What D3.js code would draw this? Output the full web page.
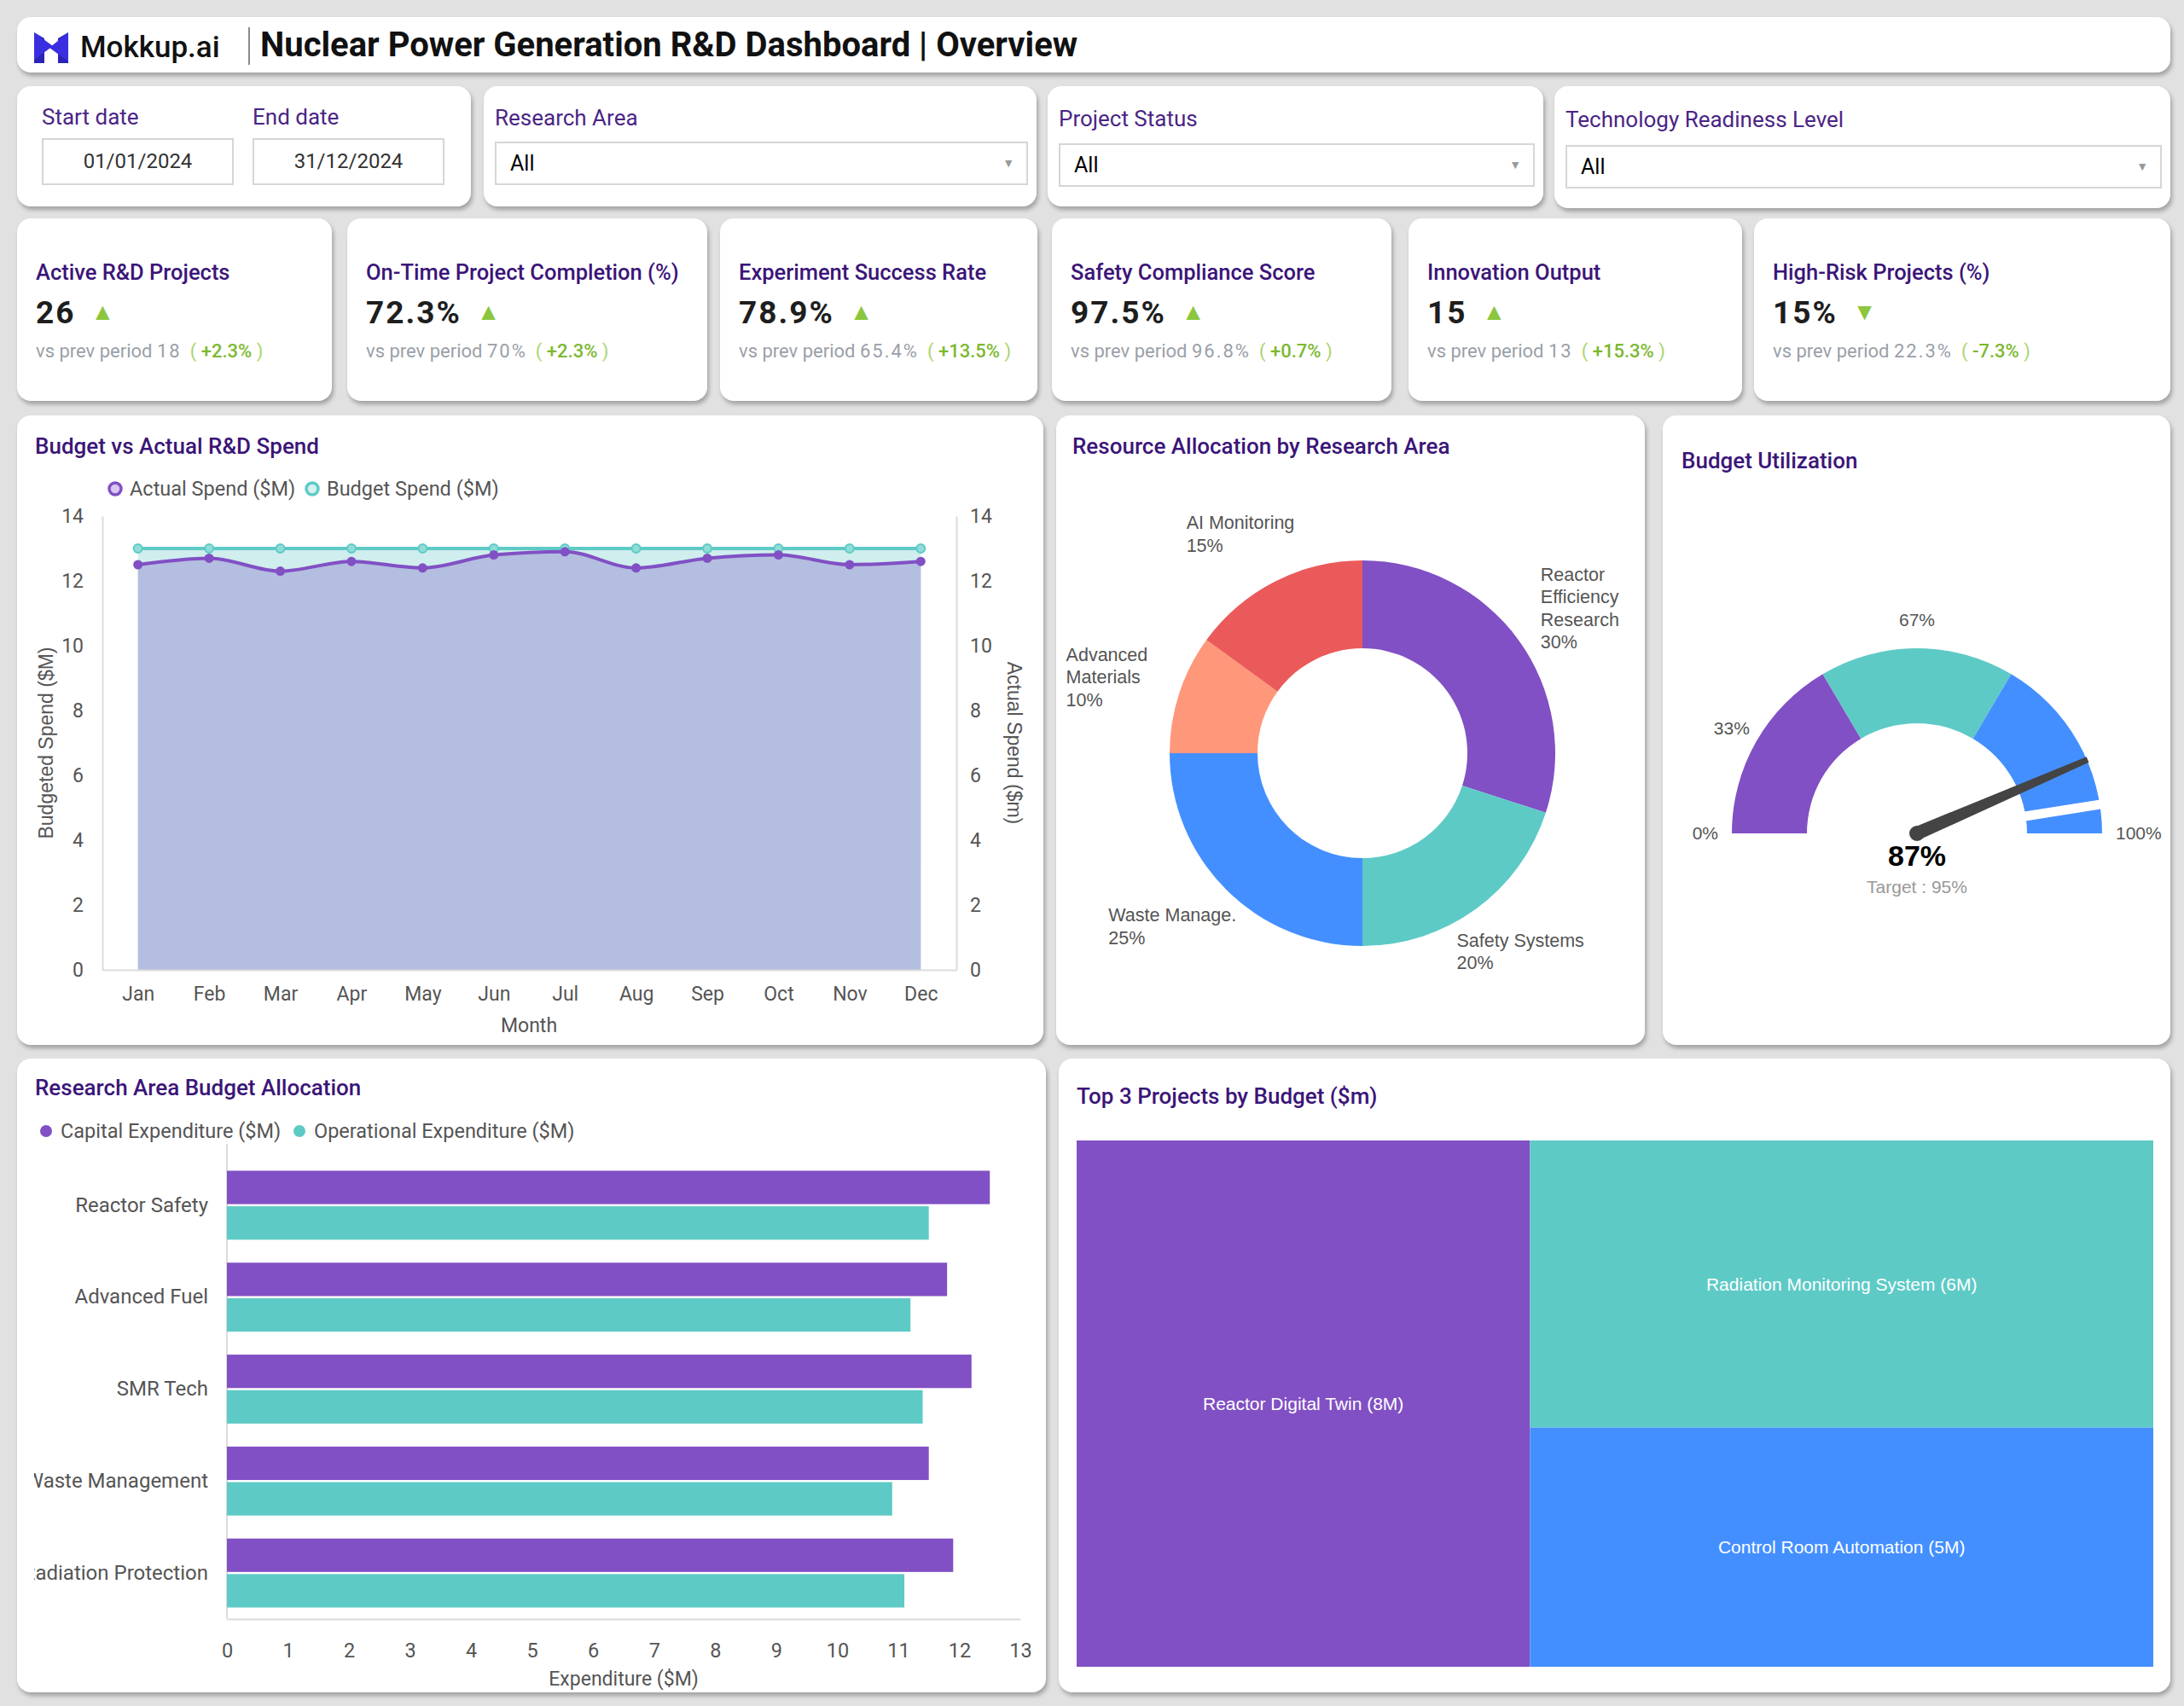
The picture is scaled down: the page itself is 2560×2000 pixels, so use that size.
<!DOCTYPE html>
<html>
<head>
<meta charset="utf-8">
<script src="https://cdn.jsdelivr.net/npm/d3@7"></script>
<style>
  body { margin:0; width:2560px; height:2000px; background:#e1e1e1; position:relative; overflow:hidden;
         font-family: Roboto, "Noto Sans", sans-serif; }
  .card { position:absolute; background:#fff; border-radius:16px; box-shadow:2px 4px 5px rgba(0,0,0,0.28); overflow:hidden; }
  .abs { position:absolute; white-space:nowrap; }
  .flabel { font-size:26px; color:#4a2585; }
  .box { position:absolute; box-sizing:border-box; border:2px solid #d6d6d6; background:#fff; font-size:24px; color:#333; }
  .ktitle { font-size:25.5px; font-weight:500; color:#3b1578; }
  .kval { font-size:37px; font-weight:700; color:#1e1e1e; letter-spacing:2px; }
  .ksub { font-size:22px; color:#9aa0a8; }
  svg text { font-family: Roboto, sans-serif; }
</style>
</head>
<body>
<script>
// ---------- data ----------
var months = ["Jan","Feb","Mar","Apr","May","Jun","Jul","Aug","Sep","Oct","Nov","Dec"];
var actualSpend = [12.5, 12.7, 12.3, 12.6, 12.4, 12.8, 12.9, 12.4, 12.7, 12.8, 12.5, 12.6];
var budgetSpend = [13, 13, 13, 13, 13, 13, 13, 13, 13, 13, 13, 13];

var areaLabels = ["Reactor\nEfficiency\nResearch", "Safety Systems", "Waste Manage.", "Advanced\nMaterials", "AI Monitoring"];
var areaShares = [30, 20, 25, 10, 15];

var gaugeBands = [0, 33, 67, 100];
var gaugeValue = 87, gaugeTarget = 95;

var researchAreas = ["Reactor Safety", "Advanced Fuel", "SMR Tech", "Waste Management", "Radiation Protection"];
var capex = [12.5, 11.8, 12.2, 11.5, 11.9];
var opex  = [11.5, 11.2, 11.4, 10.9, 11.1];

var projects = ["Reactor Digital Twin", "Radiation Monitoring System", "Control Room Automation"];
var projectBudgets = [8, 6, 5];

var kpiTitles = ["Active R&D Projects", "On-Time Project Completion (%)", "Experiment Success Rate",
                 "Safety Compliance Score", "Innovation Output", "High-Risk Projects (%)"];
var kpiValues = ["26", "72.3%", "78.9%", "97.5%", "15", "15%"];
var kpiPrev   = ["18", "70%", "65.4%", "96.8%", "13", "22.3%"];
var kpiChange = ["+2.3%", "+2.3%", "+13.5%", "+0.7%", "+15.3%", "-7.3%"];
var kpiUp     = [true, true, true, true, true, false];

var filterNames = ["Research Area", "Project Status", "Technology Readiness Level"];

// ---------- colours ----------
var PURPLE = "#8150c4", TEAL = "#5ecac6", BLUE = "#448fff", SALMON = "#ff977b", RED = "#eb5a5a";
var TITLE = "#3b1578", GREEN = "#8cc63f";

var body = d3.select("body");
function card(x, y, w, h) {
  return body.append("div").attr("class", "card")
    .style("left", x + "px").style("top", y + "px")
    .style("width", w + "px").style("height", h + "px");
}
function svgTitle(svg, t, x, y) {
  svg.append("text").attr("x", x).attr("y", y).attr("dy", "0.35em")
    .style("font-size", "26px").style("font-weight", 500).style("fill", TITLE).text(t);
}

// ---------- header ----------
var hd = card(20, 20, 2524, 65);
var logo = hd.append("svg").attr("class", "abs").style("left", "20px").style("top", "16px")
  .attr("width", 44).attr("height", 40);
logo.append("path").attr("d", "M0,2 L12,9 L12,38 L0,38 Z").attr("fill", "#2a23b8");
logo.append("path").attr("d", "M0,2 L22,18 L0,34 Z").attr("fill", "#3a2fe0");
logo.append("path").attr("d", "M40,2 L40,38 L28,38 L28,9 Z").attr("fill", "#2a23b8");
logo.append("path").attr("d", "M40,2 L18,20 L40,36 Z").attr("fill", "#3a2fe0");
hd.append("div").attr("class", "abs").style("left", "74px").style("top", "15px")
  .style("font-size", "35px").style("font-weight", 500).style("color", "#111").text("Mokkup.ai");
hd.append("div").attr("class", "abs").style("left", "271px").style("top", "12px")
  .style("width", "2px").style("height", "44px").style("background", "#8a8a8a");
hd.append("div").attr("class", "abs").style("left", "285px").style("top", "9px")
  .style("font-size", "40px").style("font-weight", 700).style("color", "#111")
  .text("Nuclear Power Generation R&D Dashboard | Overview");

// ---------- filters ----------
var fd = card(20, 101, 532, 141);
[["Start date", "01/01/2024", 29], ["End date", "31/12/2024", 276]].forEach(function(d) {
  fd.append("div").attr("class", "abs flabel").style("left", d[2] + "px").style("top", "21px").text(d[0]);
  fd.append("div").attr("class", "box").style("left", d[2] + "px").style("top", "61px")
    .style("width", "225px").style("height", "55px").style("line-height", "51px")
    .style("text-align", "center").text(d[1]);
});
var fRects = [[567, 101, 648, 141], [1228, 101, 581, 141], [1822, 101, 722, 143]];
filterNames.forEach(function(n, i) {
  var r = fRects[i];
  var c = card(r[0], r[1], r[2], r[3]);
  c.append("div").attr("class", "abs flabel").style("left", "13px").style("top", (22 + i) + "px").text(n);
  var b = c.append("div").attr("class", "box").style("left", "13px").style("top", (65 + i * 2) + "px")
    .style("width", (r[2] - 23) + "px").style("height", "51px").style("line-height", "47px")
    .style("padding-left", "16px").style("font-size", "25px").style("color", "#000").text("All");
  b.append("span").style("position", "absolute").style("right", "14px").style("font-size", "14px")
    .style("color", "#999").text("▼");
});

// ---------- KPI cards ----------
var kx = [20, 407, 844, 1233, 1651, 2056], kw = [369, 422, 372, 398, 391, 488];
kpiTitles.forEach(function(t, i) {
  var c = card(kx[i], 256, kw[i], 214);
  c.append("div").attr("class", "abs ktitle").style("left", "22px").style("top", "48px").text(t);
  var v = c.append("div").attr("class", "abs kval").style("left", "22px").style("top", "89px");
  v.append("span").text(kpiValues[i]);
  v.append("span").style("color", GREEN).style("font-size", "28px").style("margin-left", "18px")
    .style("vertical-align", "4px").text(kpiUp[i] ? "▲" : "▼");
  var s = c.append("div").attr("class", "abs ksub").style("left", "22px").style("top", "143px");
  s.append("span").text("vs prev period ");
  s.append("span").style("letter-spacing", "2px").text(kpiPrev[i]);
  s.append("span").style("color", "#a9d46e").style("margin-left", "10px").text("( ");
  s.append("span").style("color", "#7cb82f").style("font-weight", 500).text(kpiChange[i]);
  s.append("span").style("color", "#a9d46e").text(" )");
});

// ---------- Budget vs Actual ----------
(function() {
  var W = 1203, H = 738;
  var svg = card(20, 487, W, H).append("svg").attr("width", W).attr("height", H);
  svgTitle(svg, "Budget vs Actual R&D Spend", 21, 36);

  var x = d3.scalePoint().domain(months).range([100, 1101]).padding(0.5);
  var y = d3.scaleLinear().domain([0, 14]).range([650, 118]);

  // legend
  var lg = svg.append("g").attr("transform", "translate(115,86)");
  [["Actual Spend ($M)", PURPLE, "#d9c8f2", 0], ["Budget Spend ($M)", TEAL, "#d3f2f0", 231]].forEach(function(d) {
    lg.append("circle").attr("cx", d[3]).attr("r", 7).attr("fill", d[2]).attr("stroke", d[1]).attr("stroke-width", 3.5);
    lg.append("text").attr("x", d[3] + 17).attr("dy", "0.35em").style("font-size", "23.5px").style("fill", "#555").text(d[0]);
  });

  svg.append("path").datum(budgetSpend).attr("fill", "#cfeeed")
    .attr("d", d3.area().x(function(d, i) { return x(months[i]); }).y0(y(0)).y1(function(d) { return y(d); }));
  svg.append("path").datum(actualSpend).attr("fill", "#b4bee0")
    .attr("d", d3.area().x(function(d, i) { return x(months[i]); }).y0(y(0)).y1(function(d) { return y(d); })
      .curve(d3.curveMonotoneX));

  function styleAxis(g) {
    g.select(".domain").attr("stroke", "#dcdcdc").attr("stroke-width", 2);
    g.selectAll("text").style("font-size", "23px").style("fill", "#555").style("font-family", "Roboto");
  }
  svg.append("g").attr("transform", "translate(0,650)")
    .call(d3.axisBottom(x).tickSize(0).tickPadding(20)).call(styleAxis);
  svg.append("g").attr("transform", "translate(100,0)")
    .call(d3.axisLeft(y).tickValues(d3.range(0, 15, 2)).tickSize(0).tickPadding(22)).call(styleAxis);
  svg.append("g").attr("transform", "translate(1101,0)")
    .call(d3.axisRight(y).tickValues(d3.range(0, 15, 2)).tickSize(0).tickPadding(16)).call(styleAxis);

  svg.append("path").datum(budgetSpend).attr("fill", "none").attr("stroke", TEAL).attr("stroke-width", 4)
    .attr("d", d3.line().x(function(d, i) { return x(months[i]); }).y(function(d) { return y(d); }));
  svg.append("path").datum(actualSpend).attr("fill", "none").attr("stroke", PURPLE).attr("stroke-width", 4)
    .attr("d", d3.line().x(function(d, i) { return x(months[i]); }).y(function(d) { return y(d); })
      .curve(d3.curveMonotoneX));
  svg.selectAll(".bdot").data(budgetSpend).enter().append("circle")
    .attr("cx", function(d, i) { return x(months[i]); }).attr("cy", function(d) { return y(d); })
    .attr("r", 5).attr("fill", "#8fdcd8").attr("stroke", TEAL).attr("stroke-width", 2);
  svg.selectAll(".adot").data(actualSpend).enter().append("circle")
    .attr("cx", function(d, i) { return x(months[i]); }).attr("cy", function(d) { return y(d); })
    .attr("r", 5.5).attr("fill", PURPLE);

  svg.append("text").attr("transform", "translate(34,384) rotate(-90)").attr("text-anchor", "middle")
    .attr("dy", "0.35em").style("font-family", "Liberation Sans, Arial").style("font-size", "23px")
    .style("fill", "#555").text("Budgeted Spend ($M)");
  svg.append("text").attr("transform", "translate(1169,384) rotate(90)").attr("text-anchor", "middle")
    .attr("dy", "0.35em").style("font-family", "Liberation Sans, Arial").style("font-size", "23px")
    .style("fill", "#555").text("Actual Spend ($m)");
  svg.append("text").attr("x", 600).attr("y", 715).attr("text-anchor", "middle").attr("dy", "0.35em")
    .style("font-size", "23px").style("fill", "#555").text("Month");
})();

// ---------- Resource allocation donut ----------
(function() {
  var W = 690, H = 738;
  var svg = card(1238, 487, W, H).append("svg").attr("width", W).attr("height", H);
  svgTitle(svg, "Resource Allocation by Research Area", 19, 36);
  var colors = [PURPLE, TEAL, BLUE, SALMON, RED];
  var g = svg.append("g").attr("transform", "translate(359,396)");
  var pie = d3.pie().sort(null)(areaShares);
  var arc = d3.arc().innerRadius(123).outerRadius(226);
  g.selectAll("path").data(pie).enter().append("path").attr("d", arc)
    .attr("fill", function(d, i) { return colors[i]; });
  pie.forEach(function(d, i) {
    var lines = (areaLabels[i] + "\n" + areaShares[i] + "%").split("\n");
    var t = g.append("text").style("font-family", "Liberation Sans, Arial").style("font-size", "21.5px").style("fill", "#555");
    lines.forEach(function(l, k) { t.append("tspan").attr("x", 0).attr("y", k * 26.5).text(l); });
    var bb = t.node().getBBox(), m = (d.startAngle + d.endAngle) / 2;
    var cx = Math.sin(m) * 315, cy = -Math.cos(m) * 288;
    t.attr("transform", "translate(" + (cx - bb.x - bb.width / 2) + "," + (cy - bb.y - bb.height / 2) + ")");
  });
})();

// ---------- Budget utilization gauge ----------
(function() {
  var W = 595, H = 738;
  var svg = card(1949, 487, W, H).append("svg").attr("width", W).attr("height", H);
  svgTitle(svg, "Budget Utilization", 22, 53);
  var g = svg.append("g").attr("transform", "translate(298,490)");
  var a = d3.scaleLinear().domain([0, 100]).range([-Math.PI / 2, Math.PI / 2]);
  var arc = d3.arc().innerRadius(129).outerRadius(217);
  var colors = [PURPLE, TEAL, BLUE];
  d3.pairs(gaugeBands).forEach(function(p, i) {
    g.append("path").attr("d", arc({ startAngle: a(p[0]), endAngle: a(p[1]) })).attr("fill", colors[i]);
  });
  // target marker
  var ta = a(gaugeTarget);
  g.append("line").attr("x1", Math.sin(ta) * 120).attr("y1", -Math.cos(ta) * 120)
    .attr("x2", Math.sin(ta) * 228).attr("y2", -Math.cos(ta) * 228)
    .attr("stroke", "#fff").attr("stroke-width", 11);
  // labels
  gaugeBands.forEach(function(v, i) {
    var end = i === 0 || i === gaugeBands.length - 1;
    var at = end ? v : (gaugeBands[i - 1] + v) / 2;
    var r = end ? 233 : 250, ang = a(at);
    g.append("text").attr("x", Math.sin(ang) * r).attr("y", -Math.cos(ang) * r).attr("dy", "0.35em")
      .attr("text-anchor", i === 0 ? "end" : (i === gaugeBands.length - 1 ? "start" : "middle"))
      .style("font-family", "Liberation Sans, Arial").style("font-size", "21px").style("fill", "#555").text(v + "%");
  });
  // needle
  var na = a(gaugeValue), L = 218;
  var sx = Math.sin(na), cy = -Math.cos(na), px = -cy, py = sx;
  g.append("path").attr("fill", "#444").attr("d",
    "M" + (px * 8) + "," + (py * 8) + "L" + (sx * L + px * 3.5) + "," + (cy * L + py * 3.5) +
    "L" + (sx * L - px * 3.5) + "," + (cy * L - py * 3.5) + "L" + (-px * 8) + "," + (-py * 8) + "Z");
  g.append("circle").attr("r", 9).attr("fill", "#444");
  g.append("text").attr("y", 26).attr("text-anchor", "middle").attr("dy", "0.35em")
    .style("font-family", "Liberation Sans, Arial").style("font-size", "34px").style("font-weight", 700)
    .style("fill", "#000").text(gaugeValue + "%");
  g.append("text").attr("y", 63).attr("text-anchor", "middle").attr("dy", "0.35em")
    .style("font-family", "Liberation Sans, Arial").style("font-size", "21px").style("fill", "#999")
    .text("Target : " + gaugeTarget + "%");
})();

// ---------- Research area budget allocation ----------
(function() {
  var W = 1206, H = 743;
  var svg = card(20, 1241, W, H).append("svg").attr("width", W).attr("height", H);
  svgTitle(svg, "Research Area Budget Allocation", 21, 34);
  svg.append("clipPath").attr("id", "lclip").append("rect").attr("x", 20).attr("y", 0).attr("width", W).attr("height", H);

  var lg = svg.append("g").attr("transform", "translate(34,85)");
  [["Capital Expenditure ($M)", PURPLE, 0], ["Operational Expenditure ($M)", TEAL, 297]].forEach(function(d) {
    lg.append("circle").attr("cx", d[2]).attr("r", 7).attr("fill", d[1]);
    lg.append("text").attr("x", d[2] + 17).attr("dy", "0.35em").style("font-size", "23.5px").style("fill", "#555").text(d[0]);
  });

  var x = d3.scaleLinear().domain([0, 13]).range([246, 1176]);
  var y = d3.scaleBand().domain(researchAreas).range([118, 657]).paddingInner(0.25).paddingOuter(0.125);
  var ys = d3.scaleBand().domain(["capex", "opex"]).range([0, y.bandwidth()]).paddingInner(0.06);

  var gx = svg.append("g").attr("transform", "translate(0,657)")
    .call(d3.axisBottom(x).ticks(13).tickSize(0).tickPadding(28));
  var gy = svg.append("g").attr("clip-path", "url(#lclip)").append("g").attr("transform", "translate(246,0)")
    .call(d3.axisLeft(y).tickSize(0).tickPadding(22));
  [gx, gy].forEach(function(g) {
    g.select(".domain").attr("stroke", "#dcdcdc").attr("stroke-width", 2);
    g.selectAll("text").style("font-size", "23.5px").style("fill", "#555").style("font-family", "Roboto");
  });
  gy.selectAll("text").style("font-size", "24px");
  gy.select(".domain").attr("d", "M0,100V657");

  var grp = svg.selectAll(".grp").data(researchAreas).enter().append("g")
    .attr("transform", function(d) { return "translate(0," + y(d) + ")"; });
  grp.append("rect").attr("x", x(0)).attr("y", ys("capex")).attr("height", ys.bandwidth())
    .attr("width", function(d, i) { return x(capex[i]) - x(0); }).attr("fill", PURPLE);
  grp.append("rect").attr("x", x(0)).attr("y", ys("opex")).attr("height", ys.bandwidth())
    .attr("width", function(d, i) { return x(opex[i]) - x(0); }).attr("fill", TEAL);

  svg.append("text").attr("x", 711).attr("y", 727).attr("text-anchor", "middle").attr("dy", "0.35em")
    .style("font-size", "23px").style("fill", "#555").text("Expenditure ($M)");
})();

// ---------- Top 3 projects treemap ----------
(function() {
  var W = 1303, H = 743;
  var svg = card(1241, 1241, W, H).append("svg").attr("width", W).attr("height", H);
  svgTitle(svg, "Top 3 Projects by Budget ($m)", 21, 44);
  var colors = [PURPLE, TEAL, BLUE];
  var root = d3.hierarchy({ children: [
      { name: projects[0], value: projectBudgets[0], c: 0 },
      { children: [ { name: projects[1], value: projectBudgets[1], c: 1 },
                    { name: projects[2], value: projectBudgets[2], c: 2 } ] } ] })
    .sum(function(d) { return d.value || 0; });
  d3.treemap().tile(d3.treemapSliceDice).size([1262, 617])(root);
  var g = svg.append("g").attr("transform", "translate(21,96)");
  var leaves = g.selectAll("g").data(root.leaves()).enter().append("g");
  leaves.append("rect").attr("x", function(d) { return d.x0; }).attr("y", function(d) { return d.y0; })
    .attr("width", function(d) { return d.x1 - d.x0; }).attr("height", function(d) { return d.y1 - d.y0; })
    .attr("fill", function(d) { return colors[d.data.c]; });
  leaves.append("text").attr("x", function(d) { return (d.x0 + d.x1) / 2; })
    .attr("y", function(d) { return (d.y0 + d.y1) / 2; }).attr("dy", "0.35em").attr("text-anchor", "middle")
    .style("font-family", "Liberation Sans, Arial").style("font-size", "21px").style("fill", "#fff")
    .text(function(d) { return d.data.name + " (" + d.data.value + "M)"; });
})();
</script>
</body>
</html>
